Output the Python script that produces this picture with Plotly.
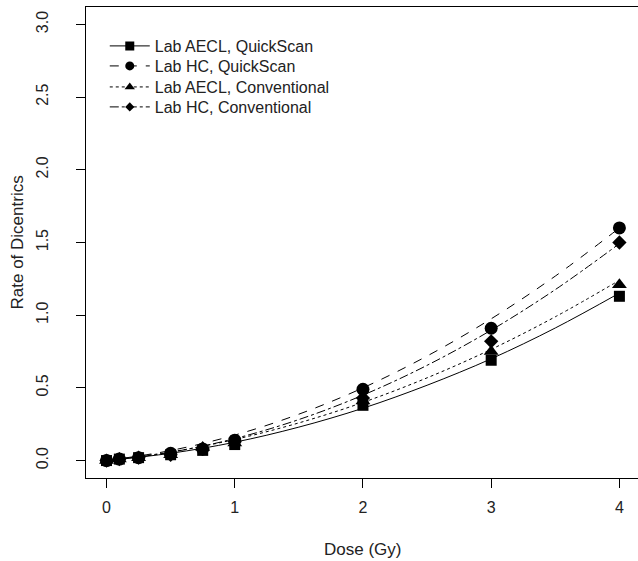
import plotly.graph_objects as go

# Observed doses (Gy)
doses = [0, 0.1, 0.25, 0.5, 0.75, 1, 2, 3, 4]

# Observed rates of dicentrics
aecl_qs = [0.00, 0.01, 0.02, 0.04, 0.07, 0.11, 0.38, 0.69, 1.13]
hc_qs = [0.00, 0.01, 0.02, 0.05, 0.08, 0.14, 0.49, 0.91, 1.60]
aecl_conv = [0.00, 0.01, 0.02, 0.04, 0.09, 0.12, 0.41, 0.75, 1.21]
hc_conv = [0.00, 0.01, 0.02, 0.04, 0.08, 0.13, 0.43, 0.82, 1.50]

# Fitted curves
curve_doses = [0, 0.5, 1, 1.5, 2, 2.5, 3, 3.5, 4]
aecl_qs_fit = [0.0, 0.05, 0.126, 0.23, 0.36, 0.518, 0.70, 0.912, 1.152]
hc_qs_fit = [0.0, 0.069, 0.175, 0.319, 0.50, 0.719, 0.975, 1.269, 1.60]
aecl_conv_fit = [0.0, 0.059, 0.145, 0.259, 0.40, 0.569, 0.765, 0.989, 1.24]
hc_conv_fit = [0.0, 0.057, 0.151, 0.282, 0.45, 0.655, 0.897, 1.176, 1.492]

names = ["Lab AECL, QuickScan", "Lab HC, QuickScan",
         "Lab AECL, Conventional", "Lab HC, Conventional"]
x_ticks = [0, 1, 2, 3, 4]
y_ticks = [0.0, 0.5, 1.0, 1.5, 2.0, 2.5, 3.0]
y_tick_text = ["0.0", "0.5", "1.0", "1.5", "2.0", "2.5", "3.0"]

series = [
    (names[0], aecl_qs, aecl_qs_fit, "square", 11, 9, "solid"),
    (names[1], hc_qs, hc_qs_fit, "circle", 13, 9, "dash"),
    (names[2], aecl_conv, aecl_conv_fit, "triangle-up", 13, 9, "dot"),
    (names[3], hc_conv, hc_conv_fit, "diamond", 11, 7, "dashdot"),
]
legend_ids = ["legend", "legend2", "legend3", "legend4"]
legend_rows = [0.9172, 0.8747, 0.8301, 0.7877]

FAM = "Liberation Sans, Arial, sans-serif"
TXT = "#222"

fig = go.Figure()
for (name, pts, fit, sym, msize, lsize, dash), lid in zip(series, legend_ids):
    fig.add_trace(go.Scatter(x=curve_doses, y=fit, mode="lines",
                             line=dict(color="black", width=1, dash=dash, shape="spline"),
                             showlegend=False, hoverinfo="skip"))
    fig.add_trace(go.Scatter(x=doses, y=pts, mode="markers",
                             marker=dict(symbol=sym, size=msize, color="black"),
                             showlegend=False, name=name))
    fig.add_trace(go.Scatter(x=[None], y=[None], mode="lines+markers", name=name,
                             legend=lid, showlegend=True,
                             line=dict(color="black", width=1, dash=dash),
                             marker=dict(symbol=sym, size=lsize, color="black")))

legend_layout = {}
for lid, ypos in zip(legend_ids, legend_rows):
    legend_layout[lid] = dict(x=0.034, y=ypos, xanchor="left", yanchor="middle",
                              bgcolor="rgba(0,0,0,0)", borderwidth=0,
                              font=dict(family=FAM, size=16, color=TXT),
                              tracegroupgap=0, itemwidth=40)

fig.update_layout(
    width=638, height=561,
    margin=dict(l=86, r=0, t=7, b=83),
    paper_bgcolor="white", plot_bgcolor="white",
    font=dict(family=FAM, size=16, color=TXT),
    showlegend=True,
    xaxis=dict(range=[-0.16, 4.145], tickvals=x_ticks, ticks="outside", ticklen=9,
               tickcolor="black", showline=True, linecolor="black", linewidth=1,
               mirror=True, showgrid=False, zeroline=False, ticklabelstandoff=6),
    yaxis=dict(range=[-0.12, 3.12], tickvals=y_ticks, ticktext=y_tick_text,
               ticks="outside", ticklen=9, tickcolor="black", tickangle=-90,
               showline=True, linecolor="black", linewidth=1, mirror=False,
               showgrid=False, zeroline=False, ticklabelstandoff=22),
    annotations=[
        dict(text="Dose (Gy)", xref="paper", yref="paper", x=0.5, y=-0.151,
             xanchor="center", yanchor="middle", showarrow=False,
             font=dict(family=FAM, size=17, color=TXT)),
        dict(text="Rate of Dicentrics", xref="paper", yref="paper", x=-0.125, y=0.5,
             xanchor="center", yanchor="middle", showarrow=False, textangle=-90,
             font=dict(family=FAM, size=17, color=TXT)),
    ],
    **legend_layout,
)

fig.write_html("out.html", config={"displayModeBar": False},
               post_script="document.body.style.margin='0px';")
